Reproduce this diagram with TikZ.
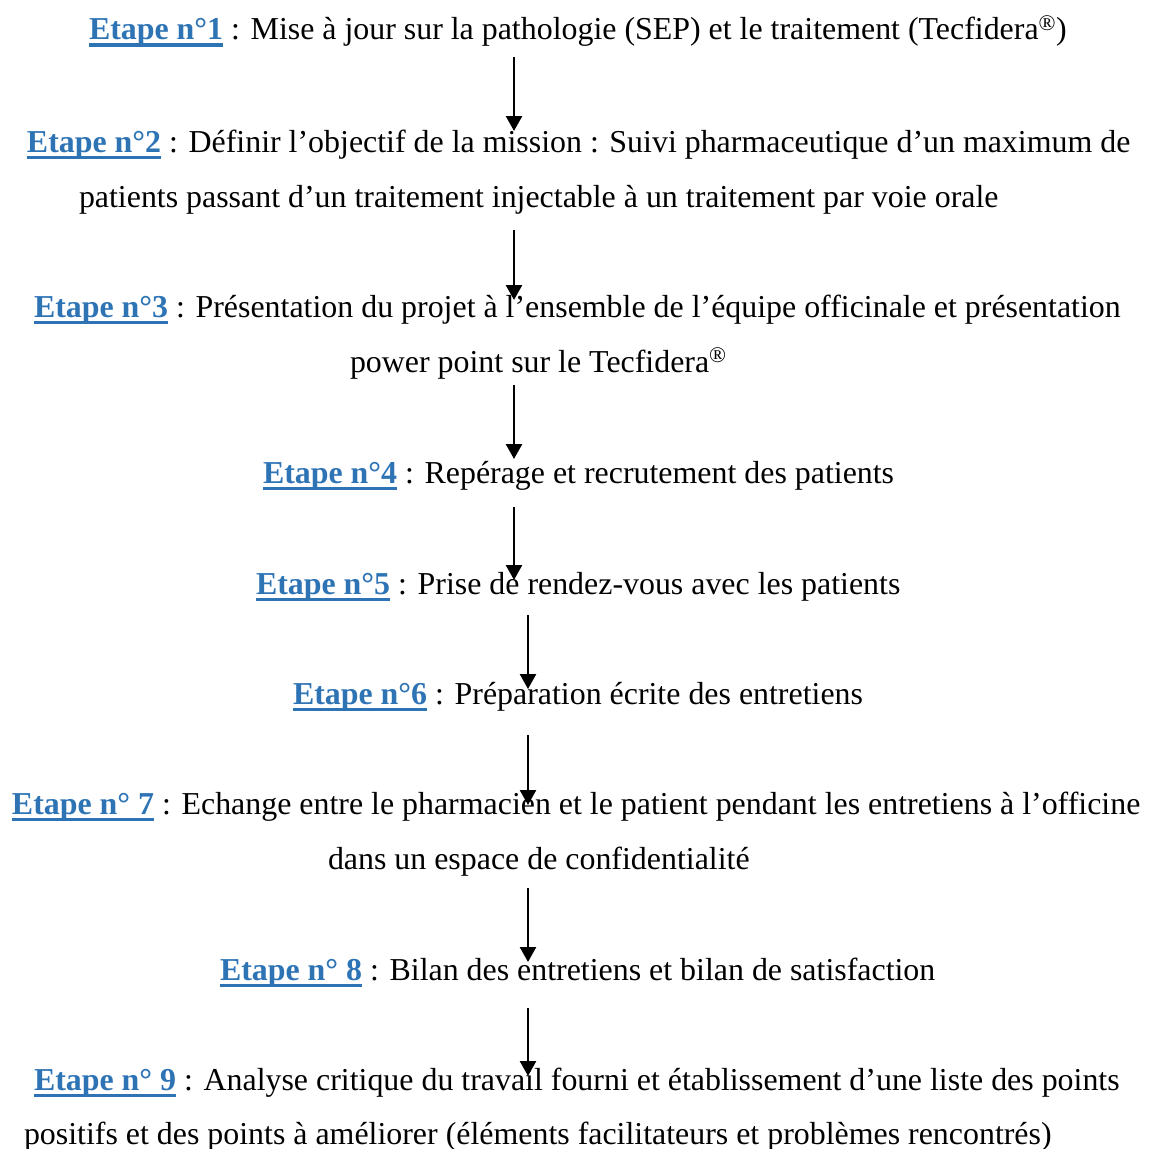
\documentclass[tikz,border=0pt]{standalone}
\usepackage{fontspec}
\setmainfont{Liberation Serif}
\usetikzlibrary{arrows.meta}
\definecolor{eblue}{RGB}{46,116,181}
\newcommand\etp[1]{{\color{eblue}\bfseries\setbox0\hbox{#1}\rlap{\rule[-7pt]{\wd0}{3.5pt}}\box0}}
\newcommand\regm{\textsuperscript{\textregistered}}
\begin{document}
\begin{tikzpicture}[x=1pt,y=-1pt,
  txt/.style={anchor=base west,inner sep=0pt,outer sep=0pt,font=\fontsize{31.9}{38}\selectfont},
  flow/.style={line width=2.5pt,-{Triangle[width=16pt,length=15pt]}}]
\useasboundingbox (0,0) rectangle (1153,1148);
\node[txt] (l1) at (89,40) {\etp{Etape n°1} : Mise à jour sur la pathologie (SEP) et le traitement (Tecfidera\regm)};
\node[txt] (l2a) at (27,152) {\etp{Etape n°2} : Définir l’objectif de la mission : Suivi pharmaceutique d’un maximum de};
\node[txt] (l2b) at (79,207) {patients passant d’un traitement injectable à un traitement par voie orale};
\node[txt] (l3a) at (34,317) {\etp{Etape n°3} : Présentation du projet à l’ensemble de l’équipe officinale et présentation};
\node[txt] (l3b) at (350,372) {power point sur le Tecfidera\regm};
\node[txt] (l4) at (263,483) {\etp{Etape n°4} : Repérage et recrutement des patients};
\node[txt] (l5) at (256,594) {\etp{Etape n°5} : Prise de rendez-vous avec les patients};
\node[txt] (l6) at (293,704) {\etp{Etape n°6} : Préparation écrite des entretiens};
\node[txt] (l7a) at (12,814) {\etp{Etape n° 7} : Echange entre le pharmacien et le patient pendant les entretiens à l’officine};
\node[txt] (l7b) at (328,869) {dans un espace de confidentialité};
\node[txt] (l8) at (220,980) {\etp{Etape n° 8} : Bilan des entretiens et bilan de satisfaction};
\node[txt] (l9a) at (34,1090) {\etp{Etape n° 9} : Analyse critique du travail fourni et établissement d’une liste des points};
\node[txt] (l9b) at (24,1144) {positifs et des points à améliorer (éléments facilitateurs et problèmes rencontrés)};
\coordinate (s1) at (514,57);   \coordinate (e1) at (514,131);
\coordinate (s2) at (514,230);  \coordinate (e2) at (514,300);
\coordinate (s3) at (514,385);  \coordinate (e3) at (514,459);
\coordinate (s4) at (514,507);  \coordinate (e4) at (514,580);
\coordinate (s5) at (528,615);  \coordinate (e5) at (528,689);
\coordinate (s6) at (528,735);  \coordinate (e6) at (528,805);
\coordinate (s7) at (528,888);  \coordinate (e7) at (528,962);
\coordinate (s8) at (528,1008); \coordinate (e8) at (528,1076);
\foreach \i in {1,...,8} \draw[flow] (s\i) -- (e\i);
\end{tikzpicture}
\end{document}
